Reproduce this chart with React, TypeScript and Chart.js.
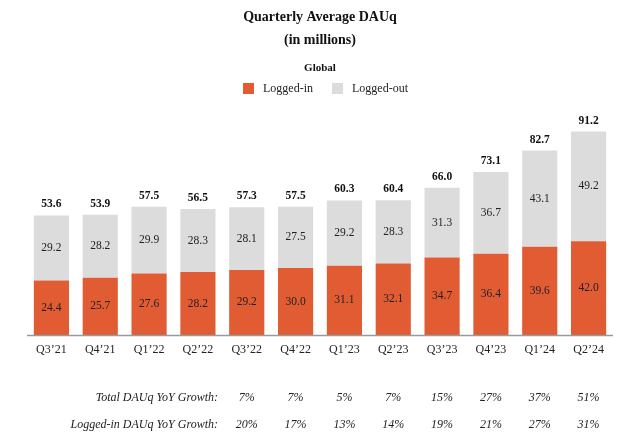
import React, { useEffect, useRef } from "react";
import { Chart, registerables } from "chart.js";

Chart.register(...registerables);

const quarters = ["Q3’21", "Q4’21", "Q1’22", "Q2’22", "Q3’22", "Q4’22", "Q1’23", "Q2’23", "Q3’23", "Q4’23", "Q1’24", "Q2’24"];
const loggedIn = [24.4, 25.7, 27.6, 28.2, 29.2, 30.0, 31.1, 32.1, 34.7, 36.4, 39.6, 42.0];
const loggedOut = [29.2, 28.2, 29.9, 28.3, 28.1, 27.5, 29.2, 28.3, 31.3, 36.7, 43.1, 49.2];
const totals = [53.6, 53.9, 57.5, 56.5, 57.3, 57.5, 60.3, 60.4, 66.0, 73.1, 82.7, 91.2];
const totalGrowth = ["", "", "", "", "7%", "7%", "5%", "7%", "15%", "27%", "37%", "51%"];
const loggedInGrowth = ["", "", "", "", "20%", "17%", "13%", "14%", "19%", "21%", "27%", "31%"];

const ORANGE = "#E15B33";
const GRAY = "#DCDCDD";
const SERIF = "'Liberation Serif', 'Times New Roman', serif";

const textPlugin = {
  id: "textPlugin",
  afterDatasetsDraw(chart: any) {
    const ctx = chart.ctx;
    const area = chart.chartArea;
    const xs = chart.scales.x;
    ctx.save();
    // baseline
    ctx.strokeStyle = "#9A9A9A";
    ctx.lineWidth = 1.5;
    ctx.beginPath();
    ctx.moveTo(area.left, area.bottom + 0.5);
    ctx.lineTo(area.right, area.bottom + 0.5);
    ctx.stroke();

    ctx.fillStyle = "#111";
    ctx.textAlign = "center";
    ctx.textBaseline = "middle";
    // titles
    ctx.font = `bold 14px ${SERIF}`;
    ctx.fillText("Quarterly Average DAUq", 320, 17);
    ctx.fillText("(in millions)", 320, 40);
    ctx.font = `bold 11px ${SERIF}`;
    ctx.fillText("Global", 320, 68);
    // legend
    ctx.font = `12px ${SERIF}`;
    ctx.textAlign = "left";
    ctx.fillStyle = ORANGE;
    ctx.fillRect(243, 83, 11, 11);
    ctx.fillStyle = GRAY;
    ctx.fillRect(332, 83, 11, 11);
    ctx.fillStyle = "#222";
    ctx.fillText("Logged-in", 263, 89);
    ctx.fillText("Logged-out", 352, 89);

    const m0 = chart.getDatasetMeta(0);
    const m1 = chart.getDatasetMeta(1);
    ctx.textAlign = "center";
    for (let i = 0; i < quarters.length; i++) {
      const b0 = m0.data[i];
      const b1 = m1.data[i];
      ctx.font = `11.5px ${SERIF}`;
      ctx.fillStyle = "#222";
      ctx.fillText(loggedIn[i].toFixed(1), b0.x, (b0.y + b0.base) / 2);
      ctx.fillText(loggedOut[i].toFixed(1), b1.x, (b1.y + b1.base) / 2);
      ctx.font = `bold 11.5px ${SERIF}`;
      ctx.fillStyle = "#111";
      ctx.fillText(totals[i].toFixed(1), b1.x, b1.y - 11);
      const x = xs.getPixelForTick(i);
      ctx.font = `12px ${SERIF}`;
      ctx.fillStyle = "#222";
      ctx.fillText(quarters[i], x, area.bottom + 15);
      ctx.font = `italic 12px ${SERIF}`;
      if (totalGrowth[i]) ctx.fillText(totalGrowth[i], x, 398);
      if (loggedInGrowth[i]) ctx.fillText(loggedInGrowth[i], x, 425);
    }
    ctx.textAlign = "right";
    ctx.font = `italic 12px ${SERIF}`;
    ctx.fillText("Total DAUq YoY Growth:", 218, 398);
    ctx.fillText("Logged-in DAUq YoY Growth:", 218, 425);
    ctx.restore();
  },
};

export default function App() {
  const ref = useRef<HTMLCanvasElement>(null);
  useEffect(() => {
    if (!ref.current) return;
    const chart = new Chart(ref.current, {
      type: "bar",
      data: {
        labels: quarters,
        datasets: [
          { label: "Logged-in", data: loggedIn, backgroundColor: ORANGE, barPercentage: 0.72, categoryPercentage: 1 },
          { label: "Logged-out", data: loggedOut, backgroundColor: GRAY, barPercentage: 0.72, categoryPercentage: 1 },
        ],
      },
      options: {
        responsive: false,
        animation: false,
        layout: { padding: { left: 27, right: 27, top: 112, bottom: 112 } },
        plugins: { legend: { display: false }, title: { display: false }, tooltip: { enabled: false } },
        scales: {
          x: { display: false, stacked: true },
          y: { display: false, stacked: true, min: 0, max: 100 },
        },
      },
      plugins: [textPlugin],
    });
    return () => chart.destroy();
  }, []);
  return (
    <div style={{ position: "fixed", left: 0, top: 0, width: 640, height: 447, background: "#fff" }}>
      <canvas ref={ref} width={640} height={447} />
    </div>
  );
}
